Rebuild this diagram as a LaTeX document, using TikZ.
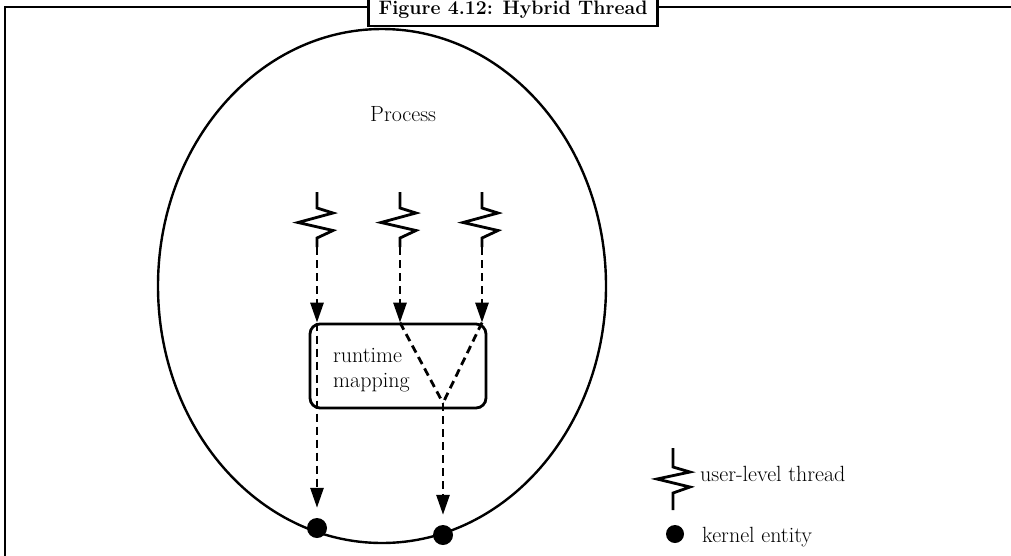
\documentclass[tikz,border=0pt]{standalone}
\usepackage{fontspec}
\usetikzlibrary{arrows.meta,shapes.geometric}
\begin{document}
\begin{tikzpicture}[x=1pt,y=-1pt,
  every node/.style={font=\fontsize{22}{25}\selectfont},
  frameline/.style={line width=2.8pt},
  solidline/.style={line width=2.8pt},
  dasharrow/.style={line width=2.8pt, dash pattern=on 8pt off 5pt,
    -{Triangle[length=20pt,width=13pt]}},
  dashline/.style={line width=2.8pt, dash pattern=on 8pt off 5pt},
  entity/.style={circle, fill=black, inner sep=0pt, minimum size=20pt},
  label/.style={anchor=base west, inner sep=0pt}
]
\useasboundingbox (0,0) rectangle (1011,555);

% outer frame with its title tab
\node[draw, frameline, fill=white, font=\fontsize{19.5}{22}\selectfont\bfseries,
      inner xsep=10pt, minimum height=32pt] (title) at (513,10) {Figure 4.12: Hybrid Thread};
\draw[frameline] (5,560) -- (5,7) -- (title.west |- 0,7);
\draw[frameline] (title.east |- 0,7) -- (1015,7);

% the process
\node[draw, ellipse, line width=2.4pt, inner sep=0pt,
      minimum width=448pt, minimum height=514pt] (proc) at (382,286) {};
\node[label] (ptext) at (370,121) {Process};

% runtime mapping box
\node[draw, line width=2.8pt, rounded corners=10pt, inner sep=0pt,
      minimum width=176pt, minimum height=84pt] (map) at (398,366) {};
\node[anchor=base west, inner sep=0pt, align=left] (mtext) at (333,387)
  {runtime\\mapping};

% user-level threads
\foreach \i/\x in {1/317,2/400,3/482}{
  \coordinate (t\i) at (\x,192);
  \draw[solidline, line join=miter] (t\i) -- ++(0,16) -- ++(16,5) -- ++(-35,9.5)
    -- ++(35,8) -- ++(-16,7.5) -- ++(0,9) coordinate (e\i);
  \draw[dasharrow] (e\i) -- (e\i |- map.north);
}

% kernel entities
\node[entity] (k1) at (317,528) {};
\node[entity] (k2) at (443,535) {};
\coordinate (v) at (443,403);

% mapping of threads onto kernel entities
\draw[dashline] (t2 |- map.north) -- (v);
\draw[dashline] (t3 |- map.north) -- (v);
\draw[dasharrow, shorten >=10pt] (t1 |- map.north) -- (k1.north);
\draw[dasharrow, shorten >=10pt] (v) -- (k2.north);

% legend
\coordinate (lz) at (673,448);
\draw[solidline, line join=miter] (lz) -- ++(0,19) -- ++(17,5) -- ++(-33,7)
  -- ++(33,8) -- ++(-17,6) -- ++(0,17);
\node[label] (ltext) at (700,481) {user-level thread};
\node[entity, minimum size=18pt] (ldot) at (675,534) {};
\node[label] (ktext) at (702,542) {kernel entity};
\end{tikzpicture}
\end{document}
